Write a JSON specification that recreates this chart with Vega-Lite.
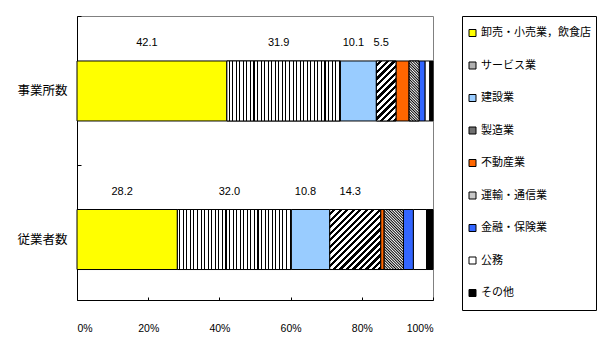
{
"$schema": "https://vega.github.io/schema/vega-lite/v6.json",
"width": 356, "height": 284,
"autosize": {"type": "none"},
"padding": {"left": 77, "top": 16, "right": 167, "bottom": 56},
"background": "#ffffff",
"data": {"values": [
{"type":"事業所数","industry":"卸売・小売業，飲食店","order":1,"value":42.1},
{"type":"事業所数","industry":"サービス業","order":2,"value":31.9},
{"type":"事業所数","industry":"建設業","order":3,"value":10.1},
{"type":"事業所数","industry":"製造業","order":4,"value":5.5},
{"type":"事業所数","industry":"不動産業","order":5,"value":3.7},
{"type":"事業所数","industry":"運輸・通信業","order":6,"value":2.8},
{"type":"事業所数","industry":"金融・保険業","order":7,"value":1.7},
{"type":"事業所数","industry":"公務","order":8,"value":1.3},
{"type":"事業所数","industry":"その他","order":9,"value":0.9},
{"type":"従業者数","industry":"卸売・小売業，飲食店","order":1,"value":28.2},
{"type":"従業者数","industry":"サービス業","order":2,"value":32.0},
{"type":"従業者数","industry":"建設業","order":3,"value":10.8},
{"type":"従業者数","industry":"製造業","order":4,"value":14.3},
{"type":"従業者数","industry":"不動産業","order":5,"value":1.0},
{"type":"従業者数","industry":"運輸・通信業","order":6,"value":5.4},
{"type":"従業者数","industry":"金融・保険業","order":7,"value":2.8},
{"type":"従業者数","industry":"公務","order":8,"value":3.7},
{"type":"従業者数","industry":"その他","order":9,"value":1.8}
]},
"transform": [
{"stack": "value", "groupby": ["type"], "sort": [{"field": "order", "order": "ascending"}], "offset": "normalize", "as": ["x0", "x1"]}
],
"resolve": {"axis": {"y": "independent"}},
"layer": [
{
"mark": {"type": "bar", "stroke": "#000000", "strokeWidth": 1},
"encoding": {
"y": {"field": "type", "type": "nominal", "sort": ["事業所数", "従業者数"],
"scale": {"paddingInner": 0.596, "paddingOuter": 0.254, "align": 0.596},
"axis": {"title": null, "ticks": false, "labelPadding": 10, "labelFontSize": 12.5, "labelFont": "Noto Sans CJK JP", "labelColor": "#000000", "domainColor": "#000000"}},
"x": {"field": "x0", "type": "quantitative", "scale": {"domain": [0, 1], "nice": false},
"axis": {"title": null, "values": [0, 0.2, 0.4, 0.6, 0.8, 1], "format": ".0%", "tickSize": -3, "tickColor": "#000000", "labelPadding": 26, "labelFontSize": 10.5, "labelColor": "#000000", "domainColor": "#000000", "grid": false}},
"x2": {"field": "x1"},
"fill": {"field": "industry", "type": "nominal",
"scale": {"domain": ["卸売・小売業，飲食店", "サービス業", "建設業", "製造業", "不動産業", "運輸・通信業", "金融・保険業", "公務", "その他"],
"range": ["#FFFF00", "#B0B0B0", "#99CCFF", "#707070", "#FF6600", "#C8C8C8", "#3366FF", "#FFFFFF", "#000000"]},
"legend": {"orient": "none", "legendX": 385, "legendY": 0, "title": null, "padding": 5, "strokeColor": "#000000", "fillColor": "#ffffff", "symbolType": "square", "symbolSize": 49, "symbolStrokeColor": "#000000", "symbolStrokeWidth": 1, "labelFont": "Noto Sans CJK JP", "labelFontSize": 11, "labelColor": "#000000", "labelOffset": 3, "labelLimit": 300, "rowPadding": 8.5, "clipHeight": 24}}
}
},
{
"transform": [{"filter": {"field": "industry", "oneOf": ["サービス業", "製造業", "運輸・通信業"]}}],
"mark": {"type": "bar", "stroke": "#000000", "strokeWidth": 1},
"encoding": {
"y": {"field": "type", "type": "nominal", "sort": ["事業所数", "従業者数"],
"axis": {"orient": "left", "title": null, "labels": false, "domain": false, "ticks": true, "tickSize": -4, "tickOffset": -75, "tickColor": "#000000"}},
"x": {"field": "x0", "type": "quantitative"},
"x2": {"field": "x1"},
"fill": {"condition": [
{"test": "datum.industry === 'サービス業'", "value": {"gradient": "linear", "x1": 0, "y1": 0, "x2": 1, "y2": 0, "stops": [
{"offset":0,"color":"#fff"},
{"offset":0.0156,"color":"#fff"},{"offset":0.0156,"color":"#000"},{"offset":0.025,"color":"#000"},{"offset":0.025,"color":"#fff"},
{"offset":0.0469,"color":"#fff"},{"offset":0.0469,"color":"#000"},{"offset":0.0563,"color":"#000"},{"offset":0.0563,"color":"#fff"},
{"offset":0.0781,"color":"#fff"},{"offset":0.0781,"color":"#000"},{"offset":0.0875,"color":"#000"},{"offset":0.0875,"color":"#fff"},
{"offset":0.1094,"color":"#fff"},{"offset":0.1094,"color":"#000"},{"offset":0.1188,"color":"#000"},{"offset":0.1188,"color":"#fff"},
{"offset":0.1406,"color":"#fff"},{"offset":0.1406,"color":"#000"},{"offset":0.15,"color":"#000"},{"offset":0.15,"color":"#fff"},
{"offset":0.1719,"color":"#fff"},{"offset":0.1719,"color":"#000"},{"offset":0.1813,"color":"#000"},{"offset":0.1813,"color":"#fff"},
{"offset":0.2031,"color":"#fff"},{"offset":0.2031,"color":"#000"},{"offset":0.2125,"color":"#000"},{"offset":0.2125,"color":"#fff"},
{"offset":0.2344,"color":"#fff"},{"offset":0.2344,"color":"#000"},{"offset":0.2438,"color":"#000"},{"offset":0.2438,"color":"#fff"},
{"offset":0.2656,"color":"#fff"},{"offset":0.2656,"color":"#000"},{"offset":0.275,"color":"#000"},{"offset":0.275,"color":"#fff"},
{"offset":0.2969,"color":"#fff"},{"offset":0.2969,"color":"#000"},{"offset":0.3063,"color":"#000"},{"offset":0.3063,"color":"#fff"},
{"offset":0.3281,"color":"#fff"},{"offset":0.3281,"color":"#000"},{"offset":0.3375,"color":"#000"},{"offset":0.3375,"color":"#fff"},
{"offset":0.3594,"color":"#fff"},{"offset":0.3594,"color":"#000"},{"offset":0.3688,"color":"#000"},{"offset":0.3688,"color":"#fff"},
{"offset":0.3906,"color":"#fff"},{"offset":0.3906,"color":"#000"},{"offset":0.4,"color":"#000"},{"offset":0.4,"color":"#fff"},
{"offset":0.4219,"color":"#fff"},{"offset":0.4219,"color":"#000"},{"offset":0.4313,"color":"#000"},{"offset":0.4313,"color":"#fff"},
{"offset":0.4531,"color":"#fff"},{"offset":0.4531,"color":"#000"},{"offset":0.4625,"color":"#000"},{"offset":0.4625,"color":"#fff"},
{"offset":0.4844,"color":"#fff"},{"offset":0.4844,"color":"#000"},{"offset":0.4938,"color":"#000"},{"offset":0.4938,"color":"#fff"},
{"offset":0.5156,"color":"#fff"},{"offset":0.5156,"color":"#000"},{"offset":0.525,"color":"#000"},{"offset":0.525,"color":"#fff"},
{"offset":0.5469,"color":"#fff"},{"offset":0.5469,"color":"#000"},{"offset":0.5563,"color":"#000"},{"offset":0.5563,"color":"#fff"},
{"offset":0.5781,"color":"#fff"},{"offset":0.5781,"color":"#000"},{"offset":0.5875,"color":"#000"},{"offset":0.5875,"color":"#fff"},
{"offset":0.6094,"color":"#fff"},{"offset":0.6094,"color":"#000"},{"offset":0.6188,"color":"#000"},{"offset":0.6188,"color":"#fff"},
{"offset":0.6406,"color":"#fff"},{"offset":0.6406,"color":"#000"},{"offset":0.65,"color":"#000"},{"offset":0.65,"color":"#fff"},
{"offset":0.6719,"color":"#fff"},{"offset":0.6719,"color":"#000"},{"offset":0.6813,"color":"#000"},{"offset":0.6813,"color":"#fff"},
{"offset":0.7031,"color":"#fff"},{"offset":0.7031,"color":"#000"},{"offset":0.7125,"color":"#000"},{"offset":0.7125,"color":"#fff"},
{"offset":0.7344,"color":"#fff"},{"offset":0.7344,"color":"#000"},{"offset":0.7438,"color":"#000"},{"offset":0.7438,"color":"#fff"},
{"offset":0.7656,"color":"#fff"},{"offset":0.7656,"color":"#000"},{"offset":0.775,"color":"#000"},{"offset":0.775,"color":"#fff"},
{"offset":0.7969,"color":"#fff"},{"offset":0.7969,"color":"#000"},{"offset":0.8063,"color":"#000"},{"offset":0.8063,"color":"#fff"},
{"offset":0.8281,"color":"#fff"},{"offset":0.8281,"color":"#000"},{"offset":0.8375,"color":"#000"},{"offset":0.8375,"color":"#fff"},
{"offset":0.8594,"color":"#fff"},{"offset":0.8594,"color":"#000"},{"offset":0.8688,"color":"#000"},{"offset":0.8688,"color":"#fff"},
{"offset":0.8906,"color":"#fff"},{"offset":0.8906,"color":"#000"},{"offset":0.9,"color":"#000"},{"offset":0.9,"color":"#fff"},
{"offset":0.9219,"color":"#fff"},{"offset":0.9219,"color":"#000"},{"offset":0.9313,"color":"#000"},{"offset":0.9313,"color":"#fff"},
{"offset":0.9531,"color":"#fff"},{"offset":0.9531,"color":"#000"},{"offset":0.9625,"color":"#000"},{"offset":0.9625,"color":"#fff"},
{"offset":0.9844,"color":"#fff"},{"offset":0.9844,"color":"#000"},{"offset":0.9938,"color":"#000"},{"offset":0.9938,"color":"#fff"},
{"offset":1,"color":"#fff"}
]}},
{"test": "datum.industry === '製造業' && datum.type === '事業所数'", "value": {"gradient": "linear", "x1": 0, "y1": 0, "x2": 0.392, "y2": 1.199, "stops": [
{"offset":0,"color":"#fff"},
{"offset":0.0417,"color":"#fff"},{"offset":0.0417,"color":"#000"},
{"offset":0.0833,"color":"#000"},{"offset":0.0833,"color":"#fff"},
{"offset":0.125,"color":"#fff"},{"offset":0.125,"color":"#000"},
{"offset":0.1667,"color":"#000"},{"offset":0.1667,"color":"#fff"},
{"offset":0.2083,"color":"#fff"},{"offset":0.2083,"color":"#000"},
{"offset":0.25,"color":"#000"},{"offset":0.25,"color":"#fff"},
{"offset":0.2917,"color":"#fff"},{"offset":0.2917,"color":"#000"},
{"offset":0.3333,"color":"#000"},{"offset":0.3333,"color":"#fff"},
{"offset":0.375,"color":"#fff"},{"offset":0.375,"color":"#000"},
{"offset":0.4167,"color":"#000"},{"offset":0.4167,"color":"#fff"},
{"offset":0.4583,"color":"#fff"},{"offset":0.4583,"color":"#000"},
{"offset":0.5,"color":"#000"},{"offset":0.5,"color":"#fff"},
{"offset":0.5417,"color":"#fff"},{"offset":0.5417,"color":"#000"},
{"offset":0.5833,"color":"#000"},{"offset":0.5833,"color":"#fff"},
{"offset":0.625,"color":"#fff"},{"offset":0.625,"color":"#000"},
{"offset":0.6667,"color":"#000"},{"offset":0.6667,"color":"#fff"},
{"offset":0.7083,"color":"#fff"},{"offset":0.7083,"color":"#000"},
{"offset":0.75,"color":"#000"},{"offset":0.75,"color":"#fff"},
{"offset":0.7917,"color":"#fff"},{"offset":0.7917,"color":"#000"},
{"offset":0.8333,"color":"#000"},{"offset":0.8333,"color":"#fff"},
{"offset":0.875,"color":"#fff"},{"offset":0.875,"color":"#000"},
{"offset":0.9167,"color":"#000"},{"offset":0.9167,"color":"#fff"},
{"offset":0.9583,"color":"#fff"},{"offset":0.9583,"color":"#000"},
{"offset":1,"color":"#000"}
]}},
{"test": "datum.industry === '製造業'", "value": {"gradient": "linear", "x1": 0, "y1": 0, "x2": 0.912, "y2": 1.075, "stops": [
{"offset":0,"color":"#fff"},
{"offset":0.0294,"color":"#fff"},{"offset":0.0294,"color":"#000"},
{"offset":0.0588,"color":"#000"},{"offset":0.0588,"color":"#fff"},
{"offset":0.0882,"color":"#fff"},{"offset":0.0882,"color":"#000"},
{"offset":0.1176,"color":"#000"},{"offset":0.1176,"color":"#fff"},
{"offset":0.1471,"color":"#fff"},{"offset":0.1471,"color":"#000"},
{"offset":0.1765,"color":"#000"},{"offset":0.1765,"color":"#fff"},
{"offset":0.2059,"color":"#fff"},{"offset":0.2059,"color":"#000"},
{"offset":0.2353,"color":"#000"},{"offset":0.2353,"color":"#fff"},
{"offset":0.2647,"color":"#fff"},{"offset":0.2647,"color":"#000"},
{"offset":0.2941,"color":"#000"},{"offset":0.2941,"color":"#fff"},
{"offset":0.3235,"color":"#fff"},{"offset":0.3235,"color":"#000"},
{"offset":0.3529,"color":"#000"},{"offset":0.3529,"color":"#fff"},
{"offset":0.3824,"color":"#fff"},{"offset":0.3824,"color":"#000"},
{"offset":0.4118,"color":"#000"},{"offset":0.4118,"color":"#fff"},
{"offset":0.4412,"color":"#fff"},{"offset":0.4412,"color":"#000"},
{"offset":0.4706,"color":"#000"},{"offset":0.4706,"color":"#fff"},
{"offset":0.5,"color":"#fff"},{"offset":0.5,"color":"#000"},
{"offset":0.5294,"color":"#000"},{"offset":0.5294,"color":"#fff"},
{"offset":0.5588,"color":"#fff"},{"offset":0.5588,"color":"#000"},
{"offset":0.5882,"color":"#000"},{"offset":0.5882,"color":"#fff"},
{"offset":0.6176,"color":"#fff"},{"offset":0.6176,"color":"#000"},
{"offset":0.6471,"color":"#000"},{"offset":0.6471,"color":"#fff"},
{"offset":0.6765,"color":"#fff"},{"offset":0.6765,"color":"#000"},
{"offset":0.7059,"color":"#000"},{"offset":0.7059,"color":"#fff"},
{"offset":0.7353,"color":"#fff"},{"offset":0.7353,"color":"#000"},
{"offset":0.7647,"color":"#000"},{"offset":0.7647,"color":"#fff"},
{"offset":0.7941,"color":"#fff"},{"offset":0.7941,"color":"#000"},
{"offset":0.8235,"color":"#000"},{"offset":0.8235,"color":"#fff"},
{"offset":0.8529,"color":"#fff"},{"offset":0.8529,"color":"#000"},
{"offset":0.8824,"color":"#000"},{"offset":0.8824,"color":"#fff"},
{"offset":0.9118,"color":"#fff"},{"offset":0.9118,"color":"#000"},
{"offset":0.9412,"color":"#000"},{"offset":0.9412,"color":"#fff"},
{"offset":0.9706,"color":"#fff"},{"offset":0.9706,"color":"#000"},
{"offset":1,"color":"#000"}
]}},
{"test": "datum.type === '事業所数'", "value": {"gradient": "linear", "x1": 0, "y1": 1, "x2": 0.189, "y2": -0.135, "stops": [
{"offset":0,"color":"#fff"},{"offset":0.0192,"color":"#000"},{"offset":0.0385,"color":"#fff"},{"offset":0.0577,"color":"#000"},{"offset":0.0769,"color":"#fff"},{"offset":0.0962,"color":"#000"},{"offset":0.1154,"color":"#fff"},{"offset":0.1346,"color":"#000"},{"offset":0.1538,"color":"#fff"},{"offset":0.1731,"color":"#000"},{"offset":0.1923,"color":"#fff"},{"offset":0.2115,"color":"#000"},{"offset":0.2308,"color":"#fff"},{"offset":0.25,"color":"#000"},{"offset":0.2692,"color":"#fff"},{"offset":0.2885,"color":"#000"},{"offset":0.3077,"color":"#fff"},{"offset":0.3269,"color":"#000"},{"offset":0.3462,"color":"#fff"},{"offset":0.3654,"color":"#000"},{"offset":0.3846,"color":"#fff"},{"offset":0.4038,"color":"#000"},{"offset":0.4231,"color":"#fff"},{"offset":0.4423,"color":"#000"},{"offset":0.4615,"color":"#fff"},{"offset":0.4808,"color":"#000"},{"offset":0.5,"color":"#fff"},{"offset":0.5192,"color":"#000"},{"offset":0.5385,"color":"#fff"},{"offset":0.5577,"color":"#000"},{"offset":0.5769,"color":"#fff"},{"offset":0.5962,"color":"#000"},{"offset":0.6154,"color":"#fff"},{"offset":0.6346,"color":"#000"},{"offset":0.6538,"color":"#fff"},{"offset":0.6731,"color":"#000"},{"offset":0.6923,"color":"#fff"},{"offset":0.7115,"color":"#000"},{"offset":0.7308,"color":"#fff"},{"offset":0.75,"color":"#000"},{"offset":0.7692,"color":"#fff"},{"offset":0.7885,"color":"#000"},{"offset":0.8077,"color":"#fff"},{"offset":0.8269,"color":"#000"},{"offset":0.8462,"color":"#fff"},{"offset":0.8654,"color":"#000"},{"offset":0.8846,"color":"#fff"},{"offset":0.9038,"color":"#000"},{"offset":0.9231,"color":"#fff"},{"offset":0.9423,"color":"#000"},{"offset":0.9615,"color":"#fff"},{"offset":0.9808,"color":"#000"},{"offset":1,"color":"#fff"}
]}}
],
"value": {"gradient": "linear", "x1": 0, "y1": 1, "x2": 0.385, "y2": -0.198, "stops": [
{"offset":0,"color":"#fff"},{"offset":0.0172,"color":"#000"},{"offset":0.0345,"color":"#fff"},{"offset":0.0517,"color":"#000"},{"offset":0.069,"color":"#fff"},{"offset":0.0862,"color":"#000"},{"offset":0.1034,"color":"#fff"},{"offset":0.1207,"color":"#000"},{"offset":0.1379,"color":"#fff"},{"offset":0.1552,"color":"#000"},{"offset":0.1724,"color":"#fff"},{"offset":0.1897,"color":"#000"},{"offset":0.2069,"color":"#fff"},{"offset":0.2241,"color":"#000"},{"offset":0.2414,"color":"#fff"},{"offset":0.2586,"color":"#000"},{"offset":0.2759,"color":"#fff"},{"offset":0.2931,"color":"#000"},{"offset":0.3103,"color":"#fff"},{"offset":0.3276,"color":"#000"},{"offset":0.3448,"color":"#fff"},{"offset":0.3621,"color":"#000"},{"offset":0.3793,"color":"#fff"},{"offset":0.3966,"color":"#000"},{"offset":0.4138,"color":"#fff"},{"offset":0.431,"color":"#000"},{"offset":0.4483,"color":"#fff"},{"offset":0.4655,"color":"#000"},{"offset":0.4828,"color":"#fff"},{"offset":0.5,"color":"#000"},{"offset":0.5172,"color":"#fff"},{"offset":0.5345,"color":"#000"},{"offset":0.5517,"color":"#fff"},{"offset":0.569,"color":"#000"},{"offset":0.5862,"color":"#fff"},{"offset":0.6034,"color":"#000"},{"offset":0.6207,"color":"#fff"},{"offset":0.6379,"color":"#000"},{"offset":0.6552,"color":"#fff"},{"offset":0.6724,"color":"#000"},{"offset":0.6897,"color":"#fff"},{"offset":0.7069,"color":"#000"},{"offset":0.7241,"color":"#fff"},{"offset":0.7414,"color":"#000"},{"offset":0.7586,"color":"#fff"},{"offset":0.7759,"color":"#000"},{"offset":0.7931,"color":"#fff"},{"offset":0.8103,"color":"#000"},{"offset":0.8276,"color":"#fff"},{"offset":0.8448,"color":"#000"},{"offset":0.8621,"color":"#fff"},{"offset":0.8793,"color":"#000"},{"offset":0.8966,"color":"#fff"},{"offset":0.9138,"color":"#000"},{"offset":0.931,"color":"#fff"},{"offset":0.9483,"color":"#000"},{"offset":0.9655,"color":"#fff"},{"offset":0.9828,"color":"#000"},{"offset":1,"color":"#fff"}
]}}
}
},
{
"transform": [{"filter": "datum.order <= 4"}, {"calculate": "(datum.x0 + datum.x1) / 2", "as": "mid"}],
"mark": {"type": "text", "baseline": "middle", "align": "center", "dy": -48, "dx": -5, "fontSize": 11, "font": "Liberation Sans", "color": "#000000"},
"encoding": {
"y": {"field": "type", "type": "nominal", "sort": ["事業所数", "従業者数"], "axis": null},
"x": {"field": "mid", "type": "quantitative"},
"text": {"field": "value", "type": "quantitative", "format": ".1f"}
}
}
],
"config": {
"view": {"stroke": "#808080", "strokeWidth": 1},
"font": "Liberation Sans, Noto Sans CJK JP",
"axis": {"grid": false, "domainColor": "#000000", "tickColor": "#000000", "labelColor": "#000000", "labelFont": "Liberation Sans"}
}
}
